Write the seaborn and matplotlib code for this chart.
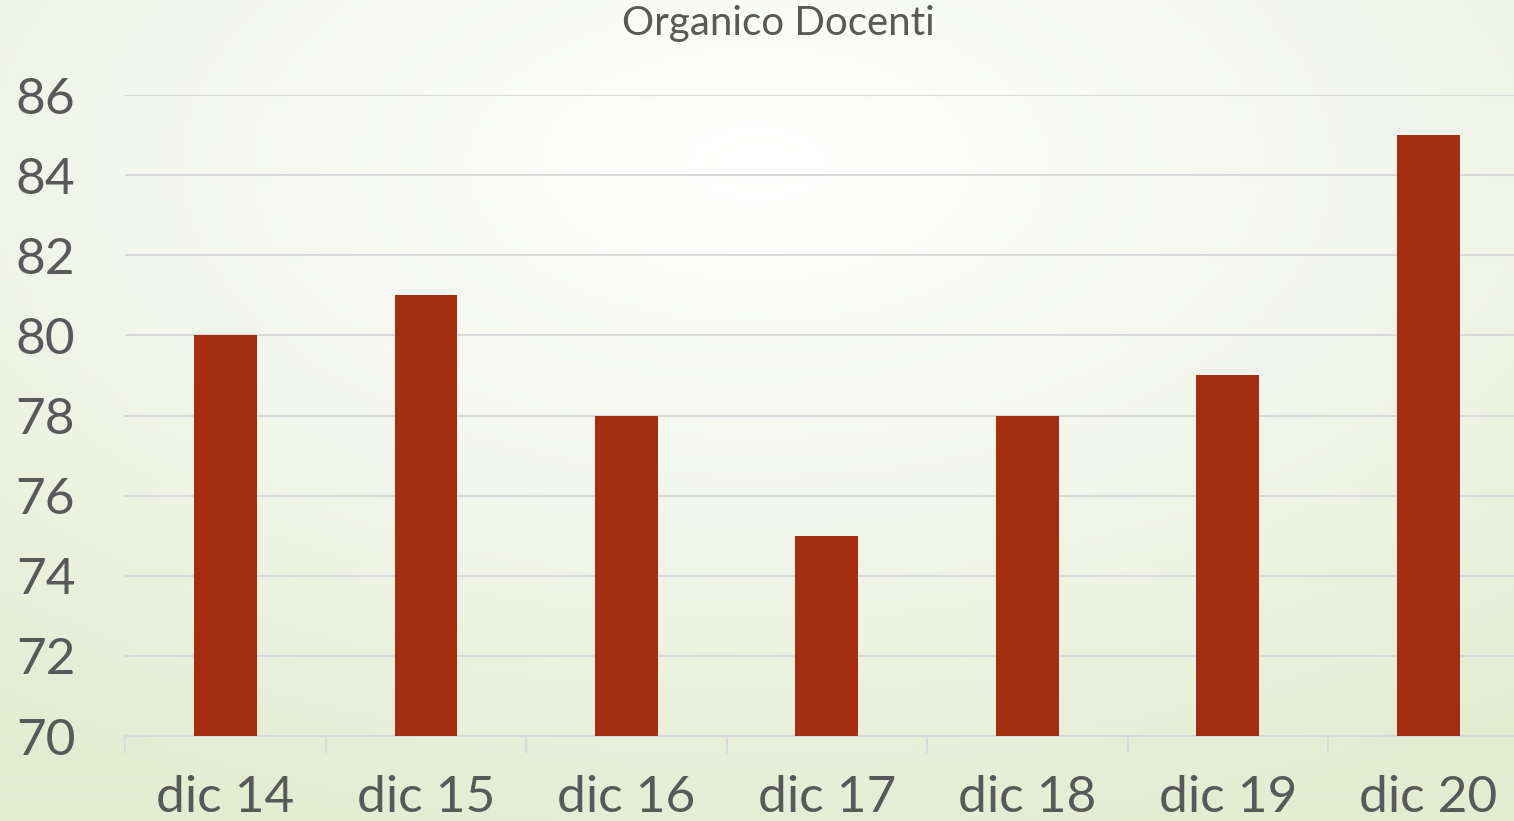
import numpy as np
import pandas as pd
import matplotlib
matplotlib.use("Agg")
import matplotlib.pyplot as plt
from matplotlib.colors import LinearSegmentedColormap
from matplotlib.ticker import FixedLocator
import seaborn as sns

categories = ["dic 14", "dic 15", "dic 16", "dic 17", "dic 18", "dic 19", "dic 20"]
values = [80, 81, 78, 75, 78, 79, 85]
y_ticks = [70, 72, 74, 76, 78, 80, 82, 84, 86]
title = "Organico Docenti"

sns.set_theme(style="white")
plt.rcParams["font.family"] = ["Lato", "DejaVu Sans"]

W, H = 1514, 821
fig = plt.figure(figsize=(W / 100, H / 100), dpi=100)

# background radial gradient
bg = fig.add_axes([0, 0, 1, 1], zorder=-10)
yy, xx = np.mgrid[0:H, 0:W]
cx, cy = 0.5 * W, 0.2 * H
d = np.sqrt(((xx - cx) / W) ** 2 + ((yy - cy) / H) ** 2)
d = np.clip(d / 0.85, 0, 1)
cmap = LinearSegmentedColormap.from_list("bg", ["#FFFFFF", "#F3F6EC", "#E4ECD2"])
bg.imshow(d, cmap=cmap, aspect="auto", extent=[0, 1, 0, 1], origin="upper", vmin=0, vmax=1)
bg.set_axis_off()

left = 125.3 / W
width = 1403.3 / W
bottom = (H - 736) / H
top = (H - 95) / H
ax = fig.add_axes([left, bottom, width, top - bottom])
ax.patch.set_alpha(0)

df = pd.DataFrame({"cat": categories, "val": values})
sns.barplot(data=df, x="cat", y="val", color="#A52E10", saturation=1, width=0.314,
            linewidth=0, ax=ax, zorder=3)

ax.set_ylim(70, 86)
ax.set_xlim(-0.5, len(categories) - 0.5)
ax.yaxis.set_major_locator(FixedLocator(y_ticks))
ax.set_yticklabels([str(v) for v in y_ticks])
ax.yaxis.grid(True, color="#D9D9D9", linewidth=1.5, zorder=0)
ax.set_axisbelow(True)
ax.set_xlabel("")
ax.set_ylabel("")

for s in ["top", "right", "left"]:
    ax.spines[s].set_visible(False)
ax.spines["bottom"].set_color("#D9D9D9")
ax.spines["bottom"].set_linewidth(1.5)
ax.spines["bottom"].set_clip_on(False)

ax.xaxis.set_minor_locator(FixedLocator(np.arange(-0.5, len(categories), 1.0)))
ax.tick_params(axis="x", which="minor", length=12, width=1.5, color="#D9D9D9", bottom=True)
ax.tick_params(axis="x", which="major", length=0, pad=28, labelsize=37, labelcolor="#595959")
ax.tick_params(axis="y", which="major", length=0, pad=36, labelsize=37, labelcolor="#595959")

fig.text(778 / W, 1 - 24 / H, title, ha="center", va="center", fontsize=29, color="#595959")

fig.savefig("out.png", dpi=100)
